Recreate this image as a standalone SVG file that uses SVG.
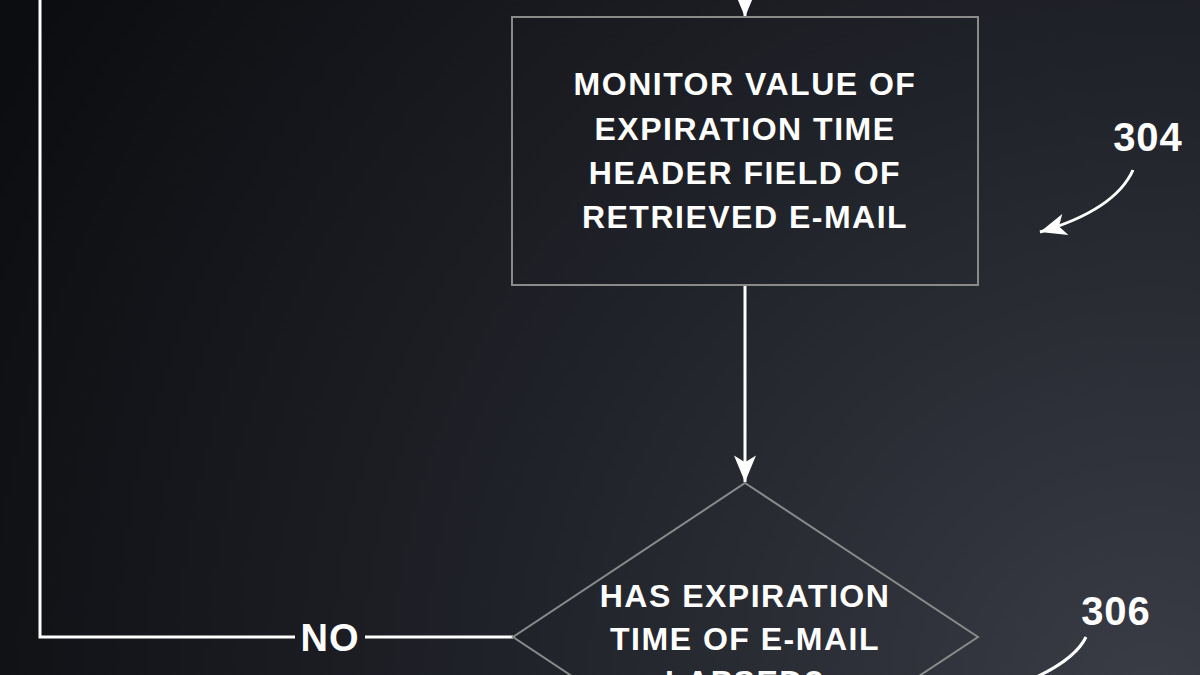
<svg xmlns="http://www.w3.org/2000/svg" width="1200" height="675" viewBox="0 0 1200 675">
<defs>
<radialGradient id="bg" cx="1150" cy="700" r="1300" gradientUnits="userSpaceOnUse">
<stop offset="0" stop-color="#3a3c46"/><stop offset="0.5" stop-color="#202229"/><stop offset="1" stop-color="#0c0d10"/>
</radialGradient>
<marker id="ah2" viewBox="0 0 12 10" refX="12" refY="5" markerWidth="28" markerHeight="22" markerUnits="userSpaceOnUse" orient="auto"><path d="M0,0 L12,5 L0,10 L3,5 Z" fill="#fff"/></marker>
</defs>
<style>
.t{font-family:"Liberation Sans",Arial,sans-serif;font-weight:bold;fill:#fff;text-anchor:middle}
.l{fill:none;stroke:#fff;stroke-width:3}
.s{fill:none;stroke:#8a8a8a;stroke-width:2}
</style>
<rect width="1200" height="675" fill="url(#bg)"/>
<g id="connectors">
<line class="l" x1="745" y1="0" x2="745" y2="17" marker-end="url(#ah2)"/>
<line class="l" x1="745" y1="286" x2="745" y2="482" marker-end="url(#ah2)"/>
<polyline class="l" points="513,637 365,637"/>
<polyline class="l" points="295,637 40,637 40,0"/>
<text class="t" x="330" y="651" font-size="38" letter-spacing="1">NO</text>
</g>
<g id="n304">
<rect class="s" x="512" y="17" width="466" height="268"/>
<text class="t" font-size="32" letter-spacing="1.5"><tspan x="745" y="95">MONITOR VALUE OF</tspan><tspan x="745" y="140">EXPIRATION TIME</tspan><tspan x="745" y="184">HEADER FIELD OF</tspan><tspan x="745" y="228">RETRIEVED E-MAIL</tspan></text>
</g>
<g id="n306">
<polygon class="s" points="745,483 978,637 745,791 513,637"/>
<text class="t" font-size="32" letter-spacing="1.5"><tspan x="745" y="607">HAS EXPIRATION</tspan><tspan x="745" y="650">TIME OF E-MAIL</tspan><tspan x="745" y="693">LAPSED?</tspan></text>
</g>
<g id="labels">
<text class="t" x="1148" y="151" font-size="40" letter-spacing="1">304</text>
<path class="l" d="M1133,170 Q1115,210 1040,232" marker-end="url(#ah2)"/>
<text class="t" x="1116" y="625" font-size="40" letter-spacing="1">306</text>
<path class="l" d="M1086,637 Q1075,660 1030,680"/>
</g>
</svg>
